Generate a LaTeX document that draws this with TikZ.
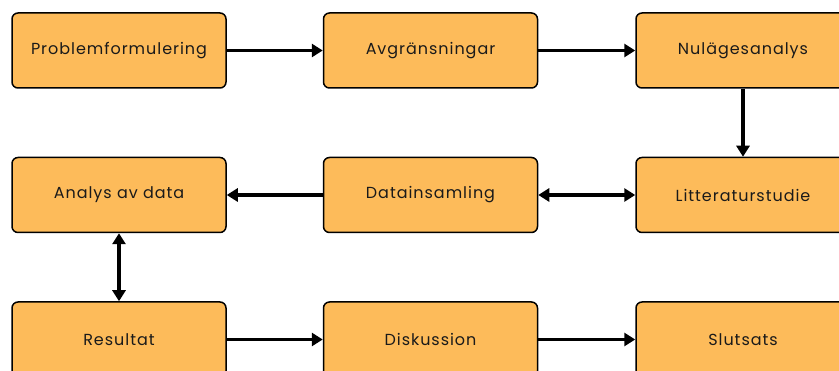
\documentclass[tikz,border=0pt]{standalone}
\usepackage{fontspec}
\setmainfont{Poppins}[LetterSpace=6]
\usetikzlibrary{arrows.meta}
\definecolor{boxfill}{HTML}{FDBB5A}
\definecolor{txt}{HTML}{1A1A1A}
\tikzset{
  stepbox/.style={draw=black, line width=1.5pt, fill=boxfill, rounded corners=6pt,
    minimum width=214pt, minimum height=75pt, inner sep=0pt,
    font=\fontsize{16}{18}\selectfont, text=txt},
  conn/.style={line width=3.3pt, -{Triangle[length=11pt,width=13pt]}},
  dconn/.style={line width=3.3pt, {Triangle[length=11pt,width=13pt]}-{Triangle[length=11pt,width=13pt]}}
}
\begin{document}
\begin{tikzpicture}[x=1pt,y=-1pt]
\useasboundingbox (0,0) rectangle (839,371);
\clip (0,0) rectangle (839,371);
\node[stepbox] (p) at (119,50.5) {Problemformulering};
\node[stepbox] (a) at (430.5,50.5) {Avgränsningar};
\node[stepbox] (n) at (743,50.5) {Nulägesanalys};
\node[stepbox] (ad) at (119,195) {Analys av data};
\node[stepbox] (d) at (430.5,195) {Datainsamling};
\node[stepbox] (l) at (743,195) {Litteraturstudie};
\node[stepbox] (r) at (119,339.5) {Resultat};
\node[stepbox] (di) at (430.5,339.5) {Diskussion};
\node[stepbox] (s) at (743,339.5) {Slutsats};
\draw[conn] (p) -- (a);
\draw[conn] (a) -- (n);
\draw[conn] (n) -- (l);
\draw[dconn] (d) -- (l);
\draw[conn] (d) -- (ad);
\draw[dconn] (ad) -- (r);
\draw[conn] (r) -- (di);
\draw[conn] (di) -- (s);
\end{tikzpicture}
\end{document}
